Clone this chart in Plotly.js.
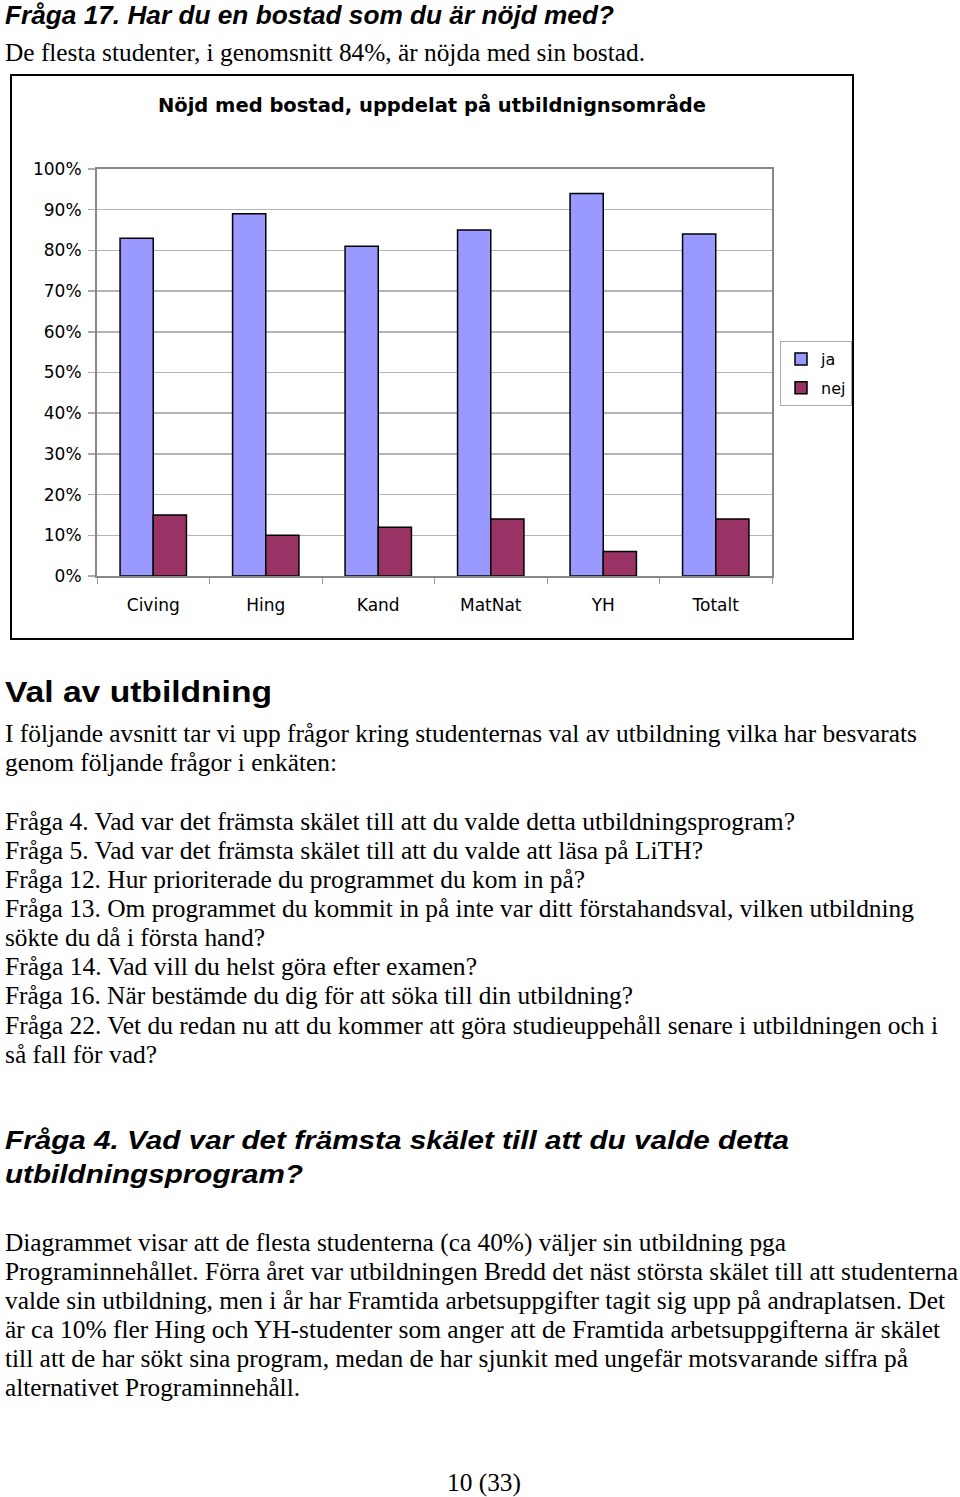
<!DOCTYPE html>
<html>
<head>
<meta charset="utf-8">
<script src="https://cdn.plot.ly/plotly-3.0.1.min.js"></script>
<style>
  html, body { margin:0; padding:0; background:#fff; }
  body { width:960px; height:1497px; position:relative; overflow:hidden; }
  .t { position:absolute; white-space:nowrap; color:#000; line-height:1; transform-origin:0 0; }
  .h { font-family:"Liberation Sans", Arial, sans-serif; font-weight:bold; font-style:italic; font-size:26px; }
  .s { font-family:"Liberation Serif", "Times New Roman", serif; font-size:25.4px; }
  .b { font-family:"Liberation Sans", Arial, sans-serif; font-weight:bold; font-size:29px; }
  #frame { position:absolute; left:10px; top:74px; width:840px; height:562px; border:2px solid #000; }
  #chart { width:840px; height:562px; }
</style>
</head>
<body>
<div class="t h" data-w="609" style="left:5px; top:1px; line-height:1.1;">Fråga 17. Har du en bostad som du är nöjd med?</div>
<div class="t s" data-w="640" style="left:5px; top:39.7px;">De flesta studenter, i genomsnitt 84%, är nöjda med sin bostad.</div>
<div id="frame"><div id="chart"></div></div>

<div class="t b" data-w="267" style="left:5px; top:677.5px;">Val av utbildning</div>
<div class="t s" data-w="912" style="left:5px; top:721px;">I följande avsnitt tar vi upp frågor kring studenternas val av utbildning vilka har besvarats</div>
<div class="t s" data-w="332" style="left:5px; top:750px;">genom följande frågor i enkäten:</div>
<div class="t s" data-w="790" style="left:5px; top:809px;">Fråga 4. Vad var det främsta skälet till att du valde detta utbildningsprogram?</div>
<div class="t s" data-w="698" style="left:5px; top:838px;">Fråga 5. Vad var det främsta skälet till att du valde att läsa på LiTH?</div>
<div class="t s" data-w="580" style="left:5px; top:867px;">Fråga 12. Hur prioriterade du programmet du kom in på?</div>
<div class="t s" data-w="909" style="left:5px; top:896px;">Fråga 13. Om programmet du kommit in på inte var ditt förstahandsval, vilken utbildning</div>
<div class="t s" data-w="260" style="left:5px; top:925px;">sökte du då i första hand?</div>
<div class="t s" data-w="472" style="left:5px; top:954px;">Fråga 14. Vad vill du helst göra efter examen?</div>
<div class="t s" data-w="628" style="left:5px; top:983px;">Fråga 16. När bestämde du dig för att söka till din utbildning?</div>
<div class="t s" data-w="933" style="left:5px; top:1013px;">Fråga 22. Vet du redan nu att du kommer att göra studieuppehåll senare i utbildningen och i</div>
<div class="t s" data-w="152" style="left:5px; top:1042px;">så fall för vad?</div>

<div class="t h" data-w="784" style="left:5px; top:1127px;">Fråga 4. Vad var det främsta skälet till att du valde detta</div>
<div class="t h" data-w="298" style="left:5px; top:1161px;">utbildningsprogram?</div>

<div class="t s" data-w="781" style="left:5px; top:1230px;">Diagrammet visar att de flesta studenterna (ca 40%) väljer sin utbildning pga</div>
<div class="t s" data-w="953" style="left:5px; top:1259px;">Programinnehållet. Förra året var utbildningen Bredd det näst största skälet till att studenterna</div>
<div class="t s" data-w="940" style="left:5px; top:1288px;">valde sin utbildning, men i år har Framtida arbetsuppgifter tagit sig upp på andraplatsen. Det</div>
<div class="t s" data-w="935" style="left:5px; top:1317px;">är ca 10% fler Hing och YH-studenter som anger att de Framtida arbetsuppgifterna är skälet</div>
<div class="t s" data-w="903" style="left:5px; top:1346px;">till att de har sökt sina program, medan de har sjunkit med ungefär motsvarande siffra på</div>
<div class="t s" data-w="295" style="left:5px; top:1375px;">alternativet Programinnehåll.</div>

<div class="t s" data-w="74" style="left:447px; top:1469.7px;">10 (33)</div>

<script>
// Fit each text line to the width it has on the page
document.querySelectorAll('.t[data-w]').forEach(el => {
  const w = el.getBoundingClientRect().width;
  const target = parseFloat(el.dataset.w);
  if (w > 0) el.style.transform = 'scaleX(' + (target / w) + ')';
});

const categories = ["Civing", "Hing", "Kand", "MatNat", "YH", "Totalt"];
const jaValues  = [83, 89, 81, 85, 94, 84];
const nejValues = [15, 10, 12, 14, 6, 14];
const seriesNames = ["ja", "nej"];
const yTicks = [0, 10, 20, 30, 40, 50, 60, 70, 80, 90, 100];
const chartTitle = "Nöjd med bostad, uppdelat på utbildnignsområde";

const font = {family: '"DejaVu Sans", "Liberation Sans", Arial, sans-serif', color: '#000'};

const traces = [
  {type: 'bar', name: seriesNames[0], x: categories, y: jaValues, legendgroup: 'a',
   marker: {color: '#9999FF', line: {color: '#000', width: 1.5}}},
  {type: 'bar', name: seriesNames[1], x: categories, y: nejValues, legendgroup: 'b',
   marker: {color: '#993366', line: {color: '#000', width: 1.5}}}
];

const layout = {
  width: 840, height: 562,
  margin: {l: 85, r: 80, t: 93, b: 62, autoexpand: false},
  paper_bgcolor: '#fff', plot_bgcolor: '#fff',
  font: Object.assign({size: 17}, font),
  title: {text: chartTitle, font: Object.assign({size: 19.5, weight: 'bold'}, font),
          x: 0.5, xref: 'container', y: 1 - 29/562, yref: 'container', yanchor: 'middle'},
  barmode: 'group', bargap: 0.41, bargroupgap: 0,
  showlegend: true,
  legend: {xref: 'container', yref: 'container',
           x: (780 - 12) / 840, xanchor: 'left', y: 1 - (341 - 76) / 562, yanchor: 'top',
           bordercolor: '#aaa', borderwidth: 1, bgcolor: '#fff',
           itemwidth: 30, tracegroupgap: 5,
           font: Object.assign({size: 16}, font)},
  xaxis: {type: 'category', showline: true, linecolor: '#888', linewidth: 2, mirror: true,
          ticks: 'outside', tickson: 'boundaries', ticklen: 6, tickcolor: '#999', tickwidth: 1,
          ticklabelstandoff: 13,
          tickfont: Object.assign({size: 17}, font), showgrid: false, fixedrange: true},
  yaxis: {range: [0, 100], tickvals: yTicks, ticktext: yTicks.map(v => v + '%'),
          showline: true, linecolor: '#888', linewidth: 2, mirror: true,
          showgrid: true, gridcolor: '#b4b4b4', gridwidth: 1.5,
          ticks: 'outside', ticklen: 7, tickcolor: '#aaa', tickwidth: 1.5,
          ticklabelstandoff: 3,
          tickfont: Object.assign({size: 17}, font), fixedrange: true}
};

Plotly.newPlot('chart', traces, layout, {displayModeBar: false, staticPlot: true});
</script>
</body>
</html>
